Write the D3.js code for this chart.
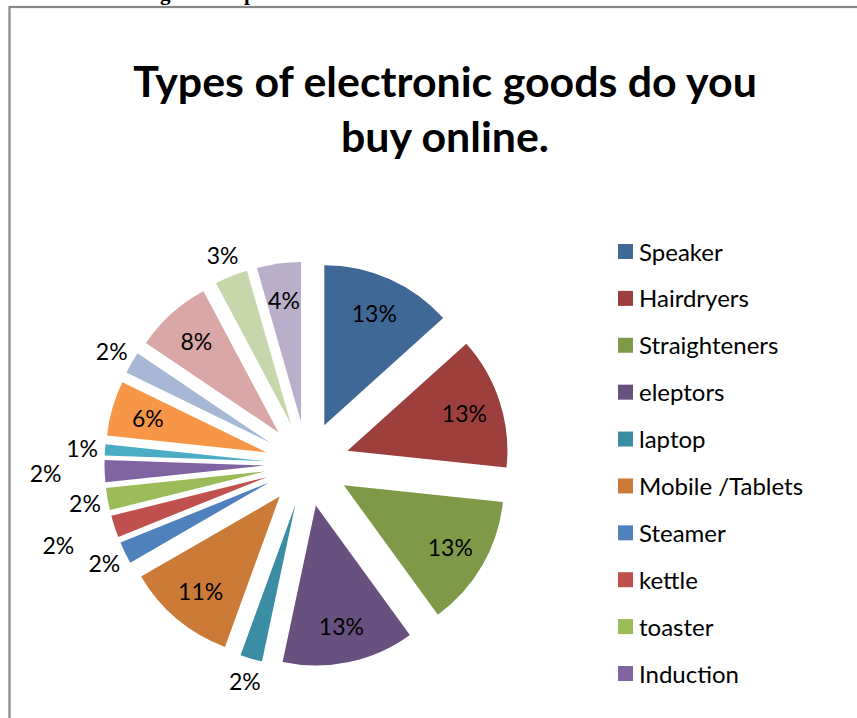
<!DOCTYPE html>
<html>
<head>
<meta charset="utf-8">
<script src="https://cdn.jsdelivr.net/npm/d3@7"></script>
<style>
  html, body { margin: 0; padding: 0; background: #fff; }
  svg { display: block; }
</style>
</head>
<body>
<svg id="chart" width="857" height="718"></svg>
<script>
// Survey answers (respondent counts per product type)
const categories = [
  "Speaker", "Hairdryers", "Straighteners", "eleptors", "laptop",
  "Mobile /Tablets", "Steamer", "kettle", "toaster", "Induction",
  "Other A", "Other B", "Other C", "Other D", "Other E", "Other F"
];
const counts = [12, 12, 12, 12, 2, 10, 2, 2, 2, 2, 1, 5, 2, 7, 3, 4];
const sliceColors = [
  "#3f6897", "#9d403d", "#7e9a48", "#68507f", "#3b8da4", "#cc7a37",
  "#4f81bd", "#c0504d", "#9bbb59", "#8064a2", "#4bacc6", "#f79646",
  "#a7b8d7", "#d9a7a6", "#c7d7ab", "#b9afcb"
];
// Only the first ten entries fit in the legend box
const legendShown = 10;
const titleLines = ["Types of electronic goods do you", "buy online."];

const svg = d3.select("#chart");
const fontSans = "Lato, 'Open Sans', sans-serif";

// Chart frame (top and left edges visible)
svg.append("rect")
  .attr("x", 9.5).attr("y", 7)
  .attr("width", 900).attr("height", 760)
  .attr("fill", "none")
  .attr("stroke", "#878787")
  .attr("stroke-width", 2.2);

// Tail of the caption line above the frame
svg.append("g")
  .attr("font-family", "'Liberation Serif', serif")
  .attr("font-weight", "bold")
  .attr("font-size", 21)
  .selectAll("text")
  .data([{ t: "g", x: 160 }, { t: "p", x: 244 }])
  .join("text")
  .attr("x", d => d.x).attr("y", 0)
  .text(d => d.t);

// Title, sized so the first line spans the full title width
const title = svg.append("text")
  .attr("font-family", fontSans)
  .attr("font-weight", "bold")
  .attr("font-size", 40)
  .attr("text-anchor", "middle")
  .attr("fill", "#000");
const tspans = title.selectAll("tspan")
  .data(titleLines)
  .join("tspan")
  .attr("x", 445)
  .attr("y", (d, i) => 97 + i * 55)
  .text(d => d);
const firstW = tspans.node().getComputedTextLength();
title.attr("font-size", 40 * 624 / firstW);

// Pie
const data = categories.map((c, i) => ({ name: c, count: counts[i], color: sliceColors[i] }));
const total = d3.sum(counts);
const cx = 307, cy = 464, R = 160, explode = 42.5;

const pie = d3.pie().sort(null).value(d => d.count);
const arcs = pie(data);
const arc = d3.arc().innerRadius(0).outerRadius(R);

const polar = (a, r) => [r * Math.sin(a), -r * Math.cos(a)];
const mid = d => (d.startAngle + d.endAngle) / 2;

const gPie = svg.append("g").attr("transform", `translate(${cx},${cy})`);

gPie.selectAll("path")
  .data(arcs)
  .join("path")
  .attr("d", arc)
  .attr("fill", d => d.data.color)
  .attr("transform", d => {
    const [dx, dy] = polar(mid(d), explode);
    return `translate(${dx},${dy})`;
  });

// Data labels: inside for large slices, outside for thin ones,
// stepping every other crowded outside label further out
const fmt = d3.format(".0%");
const insideR = 123, outsideR = 183, stepOut = 36;
let prevOutside = null;
const labels = arcs.map(d => {
  const a = mid(d);
  const span = d.endAngle - d.startAngle;
  let r;
  if (span > 0.24) {
    r = insideR;
    prevOutside = null;
  } else {
    r = outsideR;
    if (prevOutside && !prevOutside.pushed && a - prevOutside.a < 0.2) r += stepOut;
    prevOutside = { a, pushed: r > outsideR };
  }
  const [ex, ey] = polar(a, explode);
  const [lx, ly] = polar(a, r);
  return { text: fmt(d.data.count / total), x: ex + lx, y: ey + ly };
});

gPie.selectAll("text.lbl")
  .data(labels)
  .join("text")
  .attr("class", "lbl")
  .attr("x", d => d.x)
  .attr("y", d => d.y)
  .attr("text-anchor", "middle")
  .attr("dominant-baseline", "central")
  .attr("font-family", fontSans)
  .attr("font-size", 23)
  .attr("fill", "#000")
  .text(d => d.text);

// Legend
const legendData = data.slice(0, legendShown);
const ly = d3.scalePoint()
  .domain(legendData.map(d => d.name))
  .range([251, 673]);

const item = svg.append("g")
  .selectAll("g")
  .data(legendData)
  .join("g")
  .attr("transform", d => `translate(618,${ly(d.name)})`);
item.append("rect")
  .attr("x", 0).attr("y", -7)
  .attr("width", 15).attr("height", 15)
  .attr("fill", d => d.color);
item.append("text")
  .attr("x", 21).attr("y", 0)
  .attr("dominant-baseline", "central")
  .attr("font-family", fontSans)
  .attr("font-size", 24)
  .attr("fill", "#000")
  .text(d => d.name);
</script>
</body>
</html>
